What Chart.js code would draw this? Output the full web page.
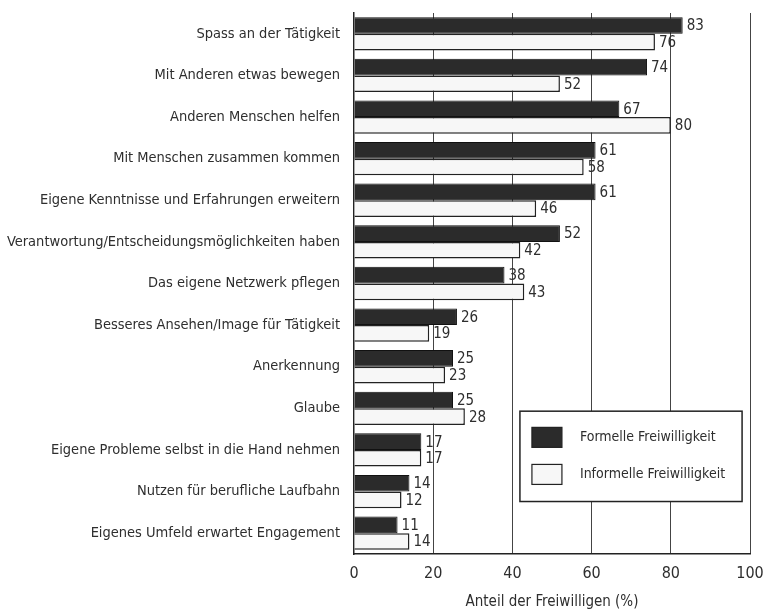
<!DOCTYPE html>
<html>
<head>
<meta charset="utf-8">
<script src="https://cdn.jsdelivr.net/npm/chart.js@4/dist/chart.umd.min.js"></script>
<style>
  html, body { margin: 0; padding: 0; background: #fff; }
  #wrap { width: 764px; height: 611px; }
</style>
</head>
<body>
<div id="wrap"><canvas id="chart" width="764" height="611"></canvas></div>
<script>
// --- Daten ---
const categories = [
    'Spass an der Tätigkeit',
    'Mit Anderen etwas bewegen',
    'Anderen Menschen helfen',
    'Mit Menschen zusammen kommen',
    'Eigene Kenntnisse und Erfahrungen erweitern',
    'Verantwortung/Entscheidungsmöglichkeiten haben',
    'Das eigene Netzwerk pflegen',
    'Besseres Ansehen/Image für Tätigkeit',
    'Anerkennung',
    'Glaube',
    'Eigene Probleme selbst in die Hand nehmen',
    'Nutzen für berufliche Laufbahn',
    'Eigenes Umfeld erwartet Engagement'
];
const formell   = [83, 74, 67, 61, 61, 52, 38, 26, 25, 25, 17, 14, 11];
const informell = [76, 52, 80, 58, 46, 42, 43, 19, 23, 28, 17, 12, 14];
const seriesNames = ['Formelle Freiwilligkeit', 'Informelle Freiwilligkeit'];
const xTicks = [0, 20, 40, 60, 80, 100];
const xTitle = 'Anteil der Freiwilligen (%)';

const FONT = '"Liberation Sans Narrow", "DejaVu Sans Condensed", "Liberation Sans", sans-serif';
const TEXT = '#2e2e2e';
const DARK = '#2b2b2b';
const LIGHT = '#f7f7f7';

// --- Wertebeschriftungen an den Balkenenden ---
const valueLabels = {
    id: 'valueLabels',
    afterDatasetsDraw(chart) {
        const ctx = chart.ctx;
        ctx.save();
        ctx.font = '15px ' + FONT;
        ctx.fillStyle = TEXT;
        ctx.textAlign = 'left';
        ctx.textBaseline = 'middle';
        chart.data.datasets.forEach((ds, di) => {
            chart.getDatasetMeta(di).data.forEach((bar, i) => {
                ctx.fillText(String(ds.data[i]), bar.x + 4, bar.y + 1);
            });
        });
        ctx.restore();
    }
};

// --- Legende im Diagramm (unten rechts, Kasten) ---
const boxLegend = {
    id: 'boxLegend',
    afterDraw(chart) {
        const { ctx, chartArea: a } = chart;
        const x0 = a.left + (a.right - a.left) * 0.419;
        const x1 = a.left + (a.right - a.left) * 0.98;
        const y0 = a.top + (a.bottom - a.top) * 0.736;
        const y1 = a.top + (a.bottom - a.top) * 0.903;
        ctx.save();
        ctx.fillStyle = '#fff';
        ctx.fillRect(x0, y0, x1 - x0, y1 - y0);
        ctx.strokeStyle = '#222';
        ctx.lineWidth = 1.5;
        ctx.strokeRect(x0, y0, x1 - x0, y1 - y0);
        const rows = [y0 + (y1 - y0) * 0.29, y0 + (y1 - y0) * 0.70];
        chart.data.datasets.forEach((ds, di) => {
            const cy = rows[di];
            ctx.fillStyle = ds.backgroundColor;
            ctx.fillRect(x0 + 12, cy - 10, 30, 20);
            ctx.strokeStyle = '#222';
            ctx.lineWidth = 1.2;
            ctx.strokeRect(x0 + 12, cy - 10, 30, 20);
            ctx.fillStyle = TEXT;
            ctx.font = '14px ' + FONT;
            ctx.textAlign = 'left';
            ctx.textBaseline = 'middle';
            ctx.fillText(seriesNames[di], x0 + 60, cy);
        });
        ctx.restore();
    }
};

new Chart(document.getElementById('chart').getContext('2d'), {
    type: 'bar',
    data: {
        labels: categories,
        datasets: [
            { label: seriesNames[0], data: formell, backgroundColor: DARK,
              borderColor: '#111', borderWidth: 1, categoryPercentage: 0.8, barPercentage: 1.0 },
            { label: seriesNames[1], data: informell, backgroundColor: LIGHT,
              borderColor: '#222', borderWidth: 1.5, categoryPercentage: 0.8, barPercentage: 1.0 }
        ]
    },
    options: {
        indexAxis: 'y',
        responsive: false,
        animation: false,
        layout: { padding: { top: 13, right: 14, left: 0, bottom: 0 } },
        scales: {
            x: {
                min: 0, max: 100,
                afterBuildTicks: s => { s.ticks = xTicks.map(v => ({ value: v })); },
                afterFit: s => { s.height = 57; s.paddingLeft = 0; s.paddingRight = 0; },
                grid: {
                    color: ctx => ctx.tick && ctx.tick.value === 0 ? 'rgba(0,0,0,0)' : '#444',
                    lineWidth: 1,
                    drawTicks: false
                },
                border: { display: true, color: '#222', width: 1.5 },
                ticks: { color: TEXT, font: { family: FONT, size: 16 }, padding: 10 },
                title: { display: true, text: xTitle, color: TEXT,
                         font: { family: FONT, size: 15 }, padding: { top: 5, bottom: 0 } }
            },
            y: {
                afterFit: s => { s.width = 354; s.paddingTop = 0; s.paddingBottom = 0; },
                grid: { display: false, drawTicks: false },
                border: { display: true, color: '#222', width: 1.5 },
                ticks: { color: TEXT, font: { family: FONT, size: 14.5 }, padding: 14 }
            }
        },
        plugins: {
            legend: { display: false },
            tooltip: { enabled: false }
        }
    },
    plugins: [valueLabels, boxLegend]
});
</script>
</body>
</html>
